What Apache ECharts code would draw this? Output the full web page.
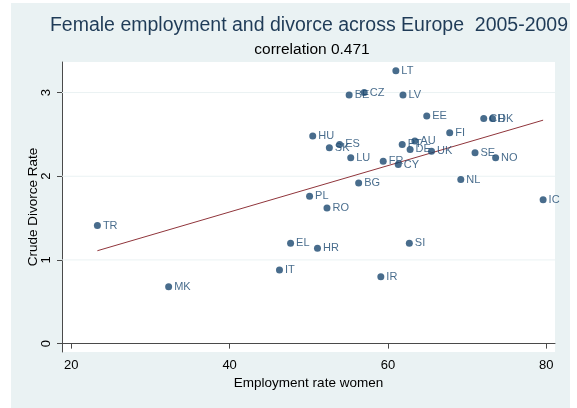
<!DOCTYPE html>
<html>
<head>
<meta charset="utf-8">
<script src="https://cdn.jsdelivr.net/npm/echarts@6/dist/echarts.min.js"></script>
<style>
  html, body { margin: 0; padding: 0; background: #ffffff; }
  #wrap { position: relative; width: 577px; height: 408px; }
  #panel { position: absolute; left: 11px; top: 3px; width: 559px; height: 405px; background: #EAF2F3; }
  #chart { position: absolute; left: 0; top: 0; width: 577px; height: 408px; }
</style>
</head>
<body>
<div id="wrap">
  <div id="panel"></div>
  <div id="chart"></div>
</div>
<script>
// Country codes
const countries = ['LT','BE','CZ','LV','EE','CH','DK','FI','HU','ES','SK','PT','AU','DE','UK','SE','NO','LU','FR','CY',
                   'NL','BG','PL','IC','RO','TR','EL','HR','SI','IT','IR','MK'];
// Employment rate of women (%)
const employment = [61.0, 55.1, 57.0, 61.9, 64.9, 72.1, 73.2, 67.8, 50.5, 53.9, 52.6, 61.8, 63.4, 62.8, 65.5, 71.0, 73.6, 55.3, 59.4, 61.3,
                    69.2, 56.3, 50.1, 79.6, 52.3, 23.3, 47.7, 51.1, 62.7, 46.3, 59.1, 32.3];
// Crude divorce rate (per 1000)
const divorce = [3.26, 2.97, 3.00, 2.97, 2.72, 2.69, 2.69, 2.52, 2.48, 2.38, 2.34, 2.38, 2.42, 2.32, 2.30, 2.28, 2.22, 2.22, 2.18, 2.14,
                 1.96, 1.92, 1.76, 1.72, 1.62, 1.41, 1.20, 1.14, 1.20, 0.88, 0.80, 0.68];
// Linear fit end points
const fitX = [23.3, 79.6];
const fitY = [1.11, 2.67];
// Axis ticks and gridlines
const xTicks = [20, 40, 60, 80];
const yTicks = [0, 1, 2, 3];
const yGrid = [1, 2, 3];

const xMin = 18.83, xMax = 81.1;
const navy = '#1a476f';
const font = 'Liberation Sans, Arial, sans-serif';

const points = countries.map((c, i) => ({ name: c, value: [employment[i], divorce[i]] }));
const fitLine = fitX.map((x, i) => [x, fitY[i]]);

// light horizontal gridlines drawn beneath everything else
const gridSeries = yGrid.map(v => ({
  type: 'line',
  data: [[xMin, v], [xMax, v]],
  symbol: 'none',
  silent: true,
  z: 1,
  lineStyle: { color: '#EAF2F3', width: 1 }
}));

const chart = echarts.init(document.getElementById('chart'), null, { renderer: 'canvas' });
chart.setOption({
  backgroundColor: 'transparent',
  animation: false,
  textStyle: { fontFamily: font },
  title: [
    {
      text: 'Female employment and divorce across Europe  2005-2009',
      left: 304, top: 11, textAlign: 'center',
      textStyle: { fontFamily: font, fontSize: 19.5, fontWeight: 'normal', color: '#1f3b57' }
    },
    {
      text: 'correlation 0.471',
      left: 307, top: 37, textAlign: 'center',
      textStyle: { fontFamily: font, fontSize: 15.5, fontWeight: 'normal', color: '#000' }
    }
  ],
  grid: {
    left: 62, top: 62, right: 22, bottom: 56,
    show: true, backgroundColor: '#ffffff', borderWidth: 0
  },
  xAxis: {
    type: 'value', min: xMin, max: xMax,
    name: 'Employment rate women', nameLocation: 'middle', nameGap: 24,
    nameMoveOverlap: false,
    nameTextStyle: { fontFamily: font, fontSize: 13.5, color: '#000' },
    axisLine: { show: true, lineStyle: { color: '#4a4a4a', width: 1 } },
    axisTick: { show: true, length: 5, customValues: xTicks, lineStyle: { color: '#4a4a4a' } },
    axisLabel: { customValues: xTicks, margin: 7, fontFamily: font, fontSize: 13, color: '#000' },
    splitLine: { show: false }
  },
  yAxis: {
    type: 'value', min: -0.1, max: 3.365,
    name: 'Crude Divorce Rate', nameLocation: 'middle', nameGap: 22, nameRotate: 90,
    nameMoveOverlap: false,
    nameTextStyle: { fontFamily: font, fontSize: 13.5, color: '#000' },
    axisLine: { show: true, onZero: false, lineStyle: { color: '#4a4a4a', width: 1 } },
    axisTick: { show: true, length: 5, customValues: yTicks, lineStyle: { color: '#4a4a4a' } },
    axisLabel: { customValues: yTicks, rotate: 90, margin: 9, fontFamily: font, fontSize: 13, color: '#000' },
    splitLine: { show: false }
  },
  series: gridSeries.concat([
    {
      type: 'line',
      data: fitLine,
      symbol: 'none',
      z: 2,
      lineStyle: { color: '#90353b', width: 1 }
    },
    {
      type: 'scatter',
      data: points,
      z: 3,
      symbol: 'circle',
      symbolSize: 7,
      itemStyle: { color: navy },
      label: {
        show: true, position: 'right', distance: 2,
        formatter: '{b}',
        fontFamily: font, fontSize: 11, color: navy
      }
    }
  ])
});
</script>
</body>
</html>
